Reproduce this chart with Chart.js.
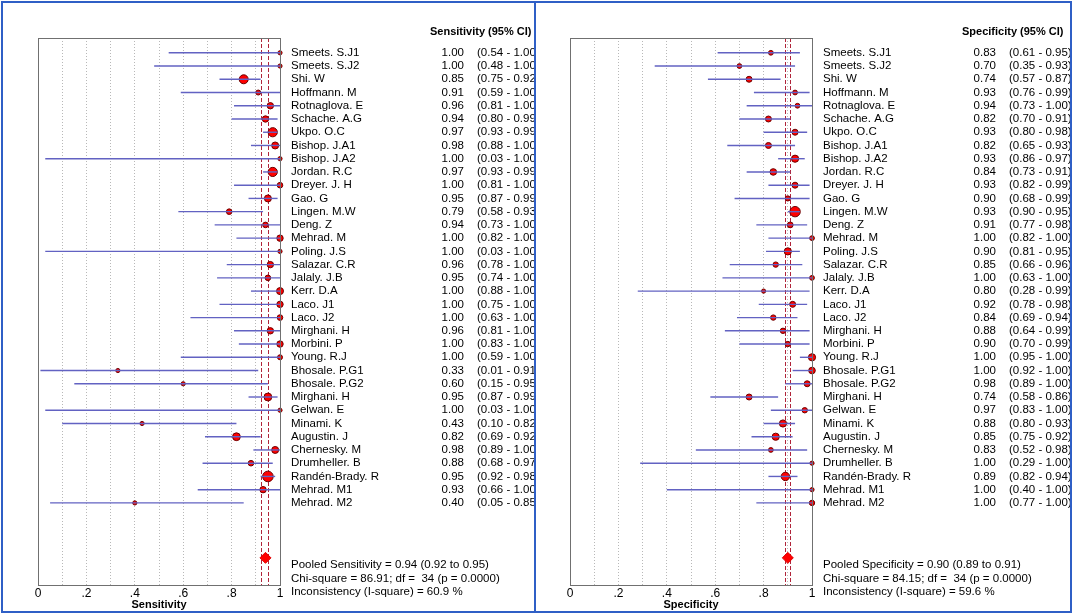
<!DOCTYPE html>
<html>
<head>
<meta charset="utf-8">
<script src="https://cdn.jsdelivr.net/npm/chart.js@4.4.1/dist/chart.umd.min.js"></script>
<style>
  html, body { margin: 0; padding: 0; background: #fff; }
  #page { position: relative; width: 1074px; height: 615px; overflow: hidden; }
  .edge { position: absolute; background: #2f5fc6; }
  .panel { position: absolute; top: 3px; height: 608px; }
  #leftPanel { left: 3px; width: 531px; }
  #rightPanel { left: 537px; width: 533px; }
</style>
</head>
<body>
<div id="page">
  <div class="edge" style="left:1px;top:1px;width:1071px;height:2px"></div>
  <div class="edge" style="left:1px;top:611px;width:1071px;height:2px"></div>
  <div class="edge" style="left:1px;top:1px;width:2px;height:612px"></div>
  <div class="edge" style="left:1070px;top:1px;width:2px;height:612px"></div>
  <div class="edge" style="left:534px;top:1px;width:2px;height:612px"></div>
  <div class="panel" id="leftPanel"><canvas id="sensChart"></canvas></div>
  <div class="panel" id="rightPanel"><canvas id="specChart"></canvas></div>
</div>
<script>
// Studies (same order in both panels)
const studies = ['Smeets. S.J1', 'Smeets. S.J2', 'Shi. W', 'Hoffmann. M', 'Rotnaglova. E',
    'Schache. A.G', 'Ukpo. O.C', 'Bishop. J.A1', 'Bishop. J.A2', 'Jordan. R.C', 'Dreyer. J. H',
    'Gao. G', 'Lingen. M.W', 'Deng. Z', 'Mehrad. M', 'Poling. J.S', 'Salazar. C.R', 'Jalaly. J.B',
    'Kerr. D.A', 'Laco. J1', 'Laco. J2', 'Mirghani. H', 'Morbini. P', 'Young. R.J', 'Bhosale. P.G1',
    'Bhosale. P.G2', 'Mirghani. H', 'Gelwan. E', 'Minami. K', 'Augustin. J', 'Chernesky. M',
    'Drumheller. B', 'Randén-Brady. R', 'Mehrad. M1', 'Mehrad. M2'];

// Sensitivity
const sensEst = [1.00, 1.00, 0.85, 0.91, 0.96, 0.94, 0.97, 0.98, 1.00, 0.97, 1.00, 0.95, 0.79, 0.94, 1.00,
    1.00, 0.96, 0.95, 1.00, 1.00, 1.00, 0.96, 1.00, 1.00, 0.33, 0.60, 0.95, 1.00, 0.43, 0.82, 0.98,
    0.88, 0.95, 0.93, 0.40];
const sensLo = [0.54, 0.48, 0.75, 0.59, 0.81, 0.80, 0.93, 0.88, 0.03, 0.93, 0.81, 0.87, 0.58, 0.73, 0.82,
    0.03, 0.78, 0.74, 0.88, 0.75, 0.63, 0.81, 0.83, 0.59, 0.01, 0.15, 0.87, 0.03, 0.10, 0.69, 0.89,
    0.68, 0.92, 0.66, 0.05];
const sensHi = [1.00, 1.00, 0.92, 1.00, 1.00, 0.99, 0.99, 1.00, 1.00, 0.99, 1.00, 0.99, 0.93, 1.00, 1.00,
    1.00, 1.00, 1.00, 1.00, 1.00, 1.00, 1.00, 1.00, 1.00, 0.91, 0.95, 0.99, 1.00, 0.82, 0.92, 1.00,
    0.97, 0.98, 1.00, 0.85];
// study weight, shown as marker radius
const sensWeight = [2.1, 2.1, 4.5, 2.5, 3.2, 3.2, 4.6, 3.5, 2.1, 4.6, 2.8, 3.5, 2.8, 2.8, 3.2, 2.1, 3.2,
    2.8, 3.5, 3.2, 2.8, 3.2, 3.2, 2.5, 2.1, 2.1, 3.9, 2.1, 2.1, 3.9, 3.5, 2.8, 5.3, 3.2, 2.1];
const sensPooled = [0.94, 0.92, 0.95];
const sensStats = ['86.91', '34', '0.0000', '60.9'];

// Specificity
const specEst = [0.83, 0.70, 0.74, 0.93, 0.94, 0.82, 0.93, 0.82, 0.93, 0.84, 0.93, 0.90, 0.93, 0.91, 1.00,
    0.90, 0.85, 1.00, 0.80, 0.92, 0.84, 0.88, 0.90, 1.00, 1.00, 0.98, 0.74, 0.97, 0.88, 0.85, 0.83,
    1.00, 0.89, 1.00, 1.00];
const specLo = [0.61, 0.35, 0.57, 0.76, 0.73, 0.70, 0.80, 0.65, 0.86, 0.73, 0.82, 0.68, 0.90, 0.77, 0.82,
    0.81, 0.66, 0.63, 0.28, 0.78, 0.69, 0.64, 0.70, 0.95, 0.92, 0.89, 0.58, 0.83, 0.80, 0.75, 0.52,
    0.29, 0.82, 0.40, 0.77];
const specHi = [0.95, 0.93, 0.87, 0.99, 1.00, 0.91, 0.98, 0.93, 0.97, 0.91, 0.99, 0.99, 0.95, 0.98, 1.00,
    0.95, 0.96, 1.00, 0.99, 0.98, 0.94, 0.99, 0.99, 1.00, 1.00, 1.00, 0.86, 1.00, 0.93, 0.92, 0.98,
    1.00, 0.94, 1.00, 1.00];
const specWeight = [2.4, 2.4, 3, 2.4, 2.4, 3, 3, 3, 3.6, 3.3, 3, 2.6, 5.2, 2.9, 2.4, 3.6, 2.7,
    2.4, 2.1, 3, 2.7, 2.7, 2.7, 3.6, 3.3, 3, 3, 2.7, 3.6, 3.6, 2.4, 2.1, 4.2, 2.1, 2.7];
const specPooled = [0.90, 0.89, 0.91];
const specStats = ['84.15', '34', '0.0000', '59.6'];

const xTickLabels = ['0', '.2', '.4', '.6', '.8', '1'];
const pooledRow = 38.15;

const FONT = '"Liberation Sans", Arial, sans-serif';

// draws CI whiskers, pooled CI lines, frame and the text columns
const forestPlugin = {
    id: 'forest',
    beforeDatasetsDraw(chart, args, o) {
        const { ctx, chartArea: a, scales: { x } } = chart;
        ctx.save();
        ctx.strokeStyle = '#b0243a';
        ctx.lineWidth = 1;
        ctx.setLineDash([4, 2]);
        [o.pooled[1], o.pooled[2]].forEach(v => {
            const px = Math.round(x.getPixelForValue(v)) + 0.5;
            ctx.beginPath();
            ctx.moveTo(px, a.top);
            ctx.lineTo(px, a.bottom);
            ctx.stroke();
        });
        ctx.restore();
    },
    afterDatasetsDraw(chart, args, o) {
        const { ctx, scales: { x, y } } = chart;
        ctx.save();
        ctx.strokeStyle = '#6262c2';
        ctx.lineWidth = 1.4;
        o.lo.forEach((lo, i) => {
            const py = y.getPixelForValue(i);
            ctx.beginPath();
            ctx.moveTo(x.getPixelForValue(lo), py);
            ctx.lineTo(x.getPixelForValue(o.hi[i]), py);
            ctx.stroke();
        });
        ctx.restore();
    },
    afterDraw(chart, args, o) {
        const { ctx, chartArea: a, scales: { y } } = chart;
        ctx.save();
        ctx.strokeStyle = '#707070';
        ctx.lineWidth = 1;
        ctx.strokeRect(a.left + 0.5, a.top + 0.5, a.right - a.left, a.bottom - a.top);

        ctx.fillStyle = '#000';
        ctx.textBaseline = 'middle';
        ctx.font = 'bold 11px ' + FONT;
        ctx.textAlign = 'left';
        ctx.fillText(o.header, a.right + 150, a.top - 6);

        ctx.font = '11.5px ' + FONT;
        studies.forEach((name, i) => {
            const py = y.getPixelForValue(i);
            ctx.textAlign = 'left';
            ctx.fillText(name, a.right + 11, py);
            ctx.textAlign = 'right';
            ctx.fillText(o.est[i].toFixed(2), a.right + 184, py);
            ctx.textAlign = 'left';
            ctx.fillText('(' + o.lo[i].toFixed(2) + ' - ' + o.hi[i].toFixed(2) + ')', a.right + 197, py);
        });

        const p = o.pooled, s = o.stats;
        ctx.textAlign = 'left';
        ctx.fillText('Pooled ' + o.label + ' = ' + p[0].toFixed(2) + ' (' + p[1].toFixed(2) + ' to ' + p[2].toFixed(2) + ')', a.right + 11, a.bottom - 20);
        ctx.fillText('Chi-square = ' + s[0] + '; df =  ' + s[1] + ' (p = ' + s[2] + ')', a.right + 11, a.bottom - 6);
        ctx.fillText('Inconsistency (I-square) = ' + s[3] + ' %', a.right + 11, a.bottom + 7);
        ctx.restore();
    }
};

function makeForest(canvasId, label, est, lo, hi, weight, pooled, stats, pad) {
    return new Chart(document.getElementById(canvasId), {
        data: {
            datasets: [{
                type: 'bubble',
                data: est.map((v, i) => ({ x: v, y: i, r: weight[i] })),
                backgroundColor: '#ff0000',
                borderColor: '#6a0000',
                borderWidth: 1,
                clip: false
            }, {
                type: 'scatter',
                data: [{ x: pooled[0], y: pooledRow }],
                pointStyle: 'rectRot',
                pointRadius: 5.5,
                backgroundColor: '#ff0000',
                borderColor: '#e00000',
                borderWidth: 1,
                clip: false
            }]
        },
        options: {
            responsive: true,
            maintainAspectRatio: false,
            animation: false,
            events: [],
            layout: { padding: { left: pad.left, right: pad.right, top: 35, bottom: 0 } },
            plugins: {
                legend: { display: false },
                tooltip: { enabled: false },
                forest: { header: label + ' (95% CI)', label: label, est: est, lo: lo, hi: hi, pooled: pooled, stats: stats }
            },
            scales: {
                x: {
                    type: 'linear',
                    min: 0,
                    max: 1,
                    afterFit: s => { s.height = 26; },
                    border: { display: false, dash: [1, 2] },
                    grid: {
                        drawTicks: false,
                        color: c => (c.index === 0 || c.index === 10) ? 'rgba(0,0,0,0)' : '#b8b8b8'
                    },
                    ticks: {
                        stepSize: 0.1,
                        autoSkip: false,
                        maxRotation: 0,
                        padding: 1,
                        color: '#000',
                        font: { family: FONT, size: 12 },
                        callback: (v, i) => i % 2 === 0 ? xTickLabels[i / 2] : ''
                    },
                    title: {
                        display: true,
                        text: label,
                        color: '#000',
                        padding: { top: 0, bottom: -1 },
                        font: { family: FONT, size: 11, weight: 'bold' }
                    }
                },
                y: {
                    type: 'linear',
                    reverse: true,
                    min: -1.118,
                    max: 40.2,
                    display: false
                }
            }
        },
        plugins: [forestPlugin]
    });
}

makeForest('sensChart', 'Sensitivity', sensEst, sensLo, sensHi, sensWeight, sensPooled, sensStats, { left: 35, right: 254 });
makeForest('specChart', 'Specificity', specEst, specLo, specHi, specWeight, specPooled, specStats, { left: 33, right: 258 });
</script>
</body>
</html>
